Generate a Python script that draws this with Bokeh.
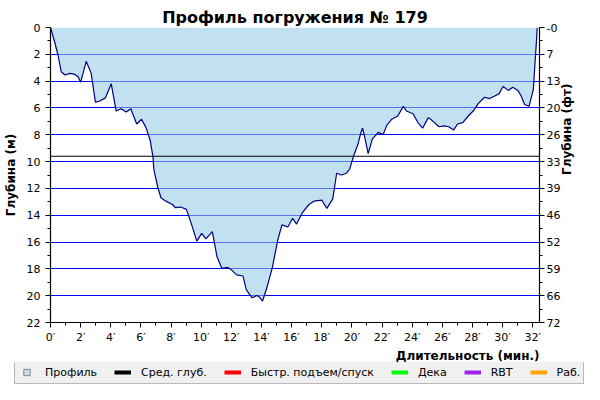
import math
from bokeh.plotting import figure
from bokeh.models import (Range1d, LinearAxis, FixedTicker, Legend, LegendItem,
                          ColumnDataSource, Title)
from bokeh.layouts import column, row
from bokeh.embed import file_html
from bokeh.resources import INLINE

# ---- data ----
times = [0.0, 0.28, 0.5, 0.71, 0.97, 1.29, 1.62, 1.83, 2.0, 2.37, 2.7, 2.98, 3.24,
         3.64, 4.03, 4.36, 4.68, 5.03, 5.33, 5.72, 6.04, 6.33, 6.62, 6.8, 6.86,
         7.12, 7.33, 7.66, 8.09, 8.3, 8.63, 9.02, 9.17, 9.39, 9.71, 10.03, 10.31,
         10.74, 10.89, 11.05, 11.37, 11.76, 11.97, 12.36, 12.77, 12.99, 13.38,
         13.7, 13.85, 14.07, 14.35, 14.71, 15.08, 15.36, 15.75, 16.07, 16.33,
         16.72, 17.15, 17.48, 18.01, 18.34, 18.73, 18.99, 19.31, 19.63, 19.85,
         20.13, 20.39, 20.6, 20.71, 20.82, 21.08, 21.36, 21.75, 22.07, 22.33,
         22.65, 23.04, 23.3, 23.41, 23.62, 24.06, 24.38, 24.7, 25.07, 25.35,
         25.78, 26.1, 26.43, 26.75, 27.01, 27.36, 27.72, 28.05, 28.37, 28.8,
         29.13, 29.45, 29.77, 30.03, 30.38, 30.68, 31.02, 31.24, 31.46, 31.76,
         32.04, 32.15, 32.25, 32.27, 32.3]
depths = [0.0, 1.1, 2.07, 3.3, 3.54, 3.42, 3.5, 3.67, 4.08, 2.52, 3.42, 5.57, 5.5,
          5.25, 4.2, 6.23, 6.06, 6.3, 6.06, 7.2, 6.84, 7.45, 8.43, 9.65, 10.6,
          11.93, 12.7, 12.95, 13.2, 13.44, 13.39, 13.56, 14.05, 14.79, 15.93, 15.35,
          15.76, 15.22, 16.13, 17.1, 17.96, 17.89, 18.04, 18.45, 18.53, 19.55,
          20.16, 19.99, 20.09, 20.4, 19.43, 17.96, 15.85, 14.72, 14.88, 14.23,
          14.66, 13.8, 13.2, 12.95, 12.88, 13.49, 12.78, 10.87, 11.0, 10.87, 10.56,
          9.53, 8.75, 7.82, 7.5, 8.01, 9.41, 8.31, 7.82, 7.99, 7.26, 6.84, 6.6,
          6.11, 5.87, 6.23, 6.43, 7.09, 7.5, 6.72, 6.96, 7.4, 7.33, 7.4, 7.65, 7.2,
          7.09, 6.6, 6.23, 5.7, 5.2, 5.3, 5.13, 4.93, 4.4, 4.69, 4.45, 4.69, 5.13,
          5.74, 5.87, 4.64, 2.69, 0.98, 0.54, 0.0]
avg_depth = 9.6
x_max = 32.45
depth_max = 22

m_ticks = [0, 2, 4, 6, 8, 10, 12, 14, 16, 18, 20, 22]
ft_labels = ["-0", "7", "13", "20", "26", "33", "39", "46", "52", "59", "66", "72"]
min_ticks = [0, 2, 4, 6, 8, 10, 12, 14, 16, 18, 20, 22, 24, 26, 28, 30, 32]
min_labels = [f"{t}\u2032" for t in min_ticks]

legend_labels = ["Профиль", "Сред. глуб.", "Быстр. подъем/спуск", "Дека", "RBT", "Раб."]
legend_colors = ["#c1e1f1", "black", "red", "#00ff00", "#a020f0", "orange"]

FONT = "DejaVu Sans"

p = figure(width=584, height=362, output_backend="svg", toolbar_location=None,
           x_range=Range1d(0, x_max), y_range=Range1d(depth_max, 0),
           min_border_left=50, min_border_right=38, min_border_top=27,
           min_border_bottom=36, outline_line_color=None)
p.title.text = "Профиль погружения № 179"
p.title.align = "center"
p.title.text_font = FONT
p.title.text_font_size = "16px"
p.title.text_font_style = "bold"
p.title.text_color = "black"
p.title.standoff = 2
p.title.offset = 0

p.xgrid.visible = False
p.ygrid.ticker = FixedTicker(ticks=m_ticks)
p.ygrid.grid_line_color = "#0000ff"
p.ygrid.grid_line_width = 1

def style_axis(ax):
    ax.axis_line_color = "black"
    ax.axis_line_width = 1.2
    ax.major_tick_line_color = "black"
    ax.minor_tick_line_color = "black"
    ax.major_tick_in = 0
    ax.major_tick_out = 5
    ax.minor_tick_in = 0
    ax.minor_tick_out = 3
    ax.major_label_text_font = FONT
    ax.major_label_text_font_size = "11px"
    ax.major_label_text_color = "black"
    ax.major_label_standoff = 3
    ax.axis_label_text_font = FONT
    ax.axis_label_text_font_size = "12px"
    ax.axis_label_text_font_style = "bold"
    ax.axis_label_text_color = "black"

# left axis
ly = p.yaxis[0]
ly.ticker = FixedTicker(ticks=m_ticks, minor_ticks=list(range(0, 23)))
ly.axis_label = "Глубина (м)"
style_axis(ly)
ly.major_label_standoff = 5
ly.axis_label_standoff = 6

# bottom axis
bx = p.xaxis[0]
bx.ticker = FixedTicker(ticks=min_ticks, minor_ticks=list(range(0, 33)))
bx.major_label_overrides = {t: l for t, l in zip(min_ticks, min_labels)}
style_axis(bx)
bx.major_label_standoff = 3

xlabel = Title(text="Длительность (мин.)", align="right", text_font=FONT,
               text_font_size="12px", text_font_style="bold", text_color="black",
               standoff=0, offset=0)
p.add_layout(xlabel, "below")

# right axis
ry = LinearAxis(ticker=FixedTicker(ticks=m_ticks, minor_ticks=list(range(0, 23))),
                axis_label="Глубина (фт)")
ry.major_label_overrides = {t: l for t, l in zip(m_ticks, ft_labels)}
style_axis(ry)
ry.major_label_standoff = 2
ry.axis_label_standoff = 4
ry.axis_label_orientation = math.pi / 2
p.add_layout(ry, "right")

src = ColumnDataSource(dict(t=times, d=depths))
p.varea(x="t", y1=0, y2="d", source=src, fill_color="#94cbe7", fill_alpha=0.58)
p.line(x="t", y="d", source=src, line_color="#000080", line_width=1.2)
p.line(x=[0, x_max], y=[avg_depth, avg_depth], line_color="black", line_width=1.2)

# legend figure
lf = figure(width=584, height=22, output_backend="svg", toolbar_location=None,
            x_range=Range1d(0, 1), y_range=Range1d(0, 1),
            x_axis_location=None, y_axis_location=None,
            min_border=0, outline_line_color=None)
lf.grid.visible = False

nan = float("nan")
items = []
r0 = lf.scatter(x=[nan], y=[nan], marker="square", size=10, fill_color=legend_colors[0],
                line_color="#808080", line_width=1)
items.append(LegendItem(label=legend_labels[0], renderers=[r0]))
for lab, col in zip(legend_labels[1:], legend_colors[1:]):
    r = lf.line(x=[nan, nan], y=[nan, nan], line_color=col, line_width=4)
    items.append(LegendItem(label=lab, renderers=[r]))

leg = Legend(items=items, orientation="horizontal", location=(14, 0))
leg.border_line_color = "#808080"
leg.border_line_width = 1.5
leg.background_fill_color = "#f0f0f0"
leg.background_fill_alpha = 1
leg.label_text_font = FONT
leg.label_text_font_size = "11px"
leg.label_text_color = "black"
leg.glyph_width = 17
leg.glyph_height = 16
leg.label_height = 16
leg.label_standoff = 10
leg.spacing = 17
leg.padding = 3
leg.margin = 0
lf.add_layout(leg, "center")

layout = column(p, row(lf), spacing=0)
open("out.html", "w").write(file_html(layout, INLINE))
